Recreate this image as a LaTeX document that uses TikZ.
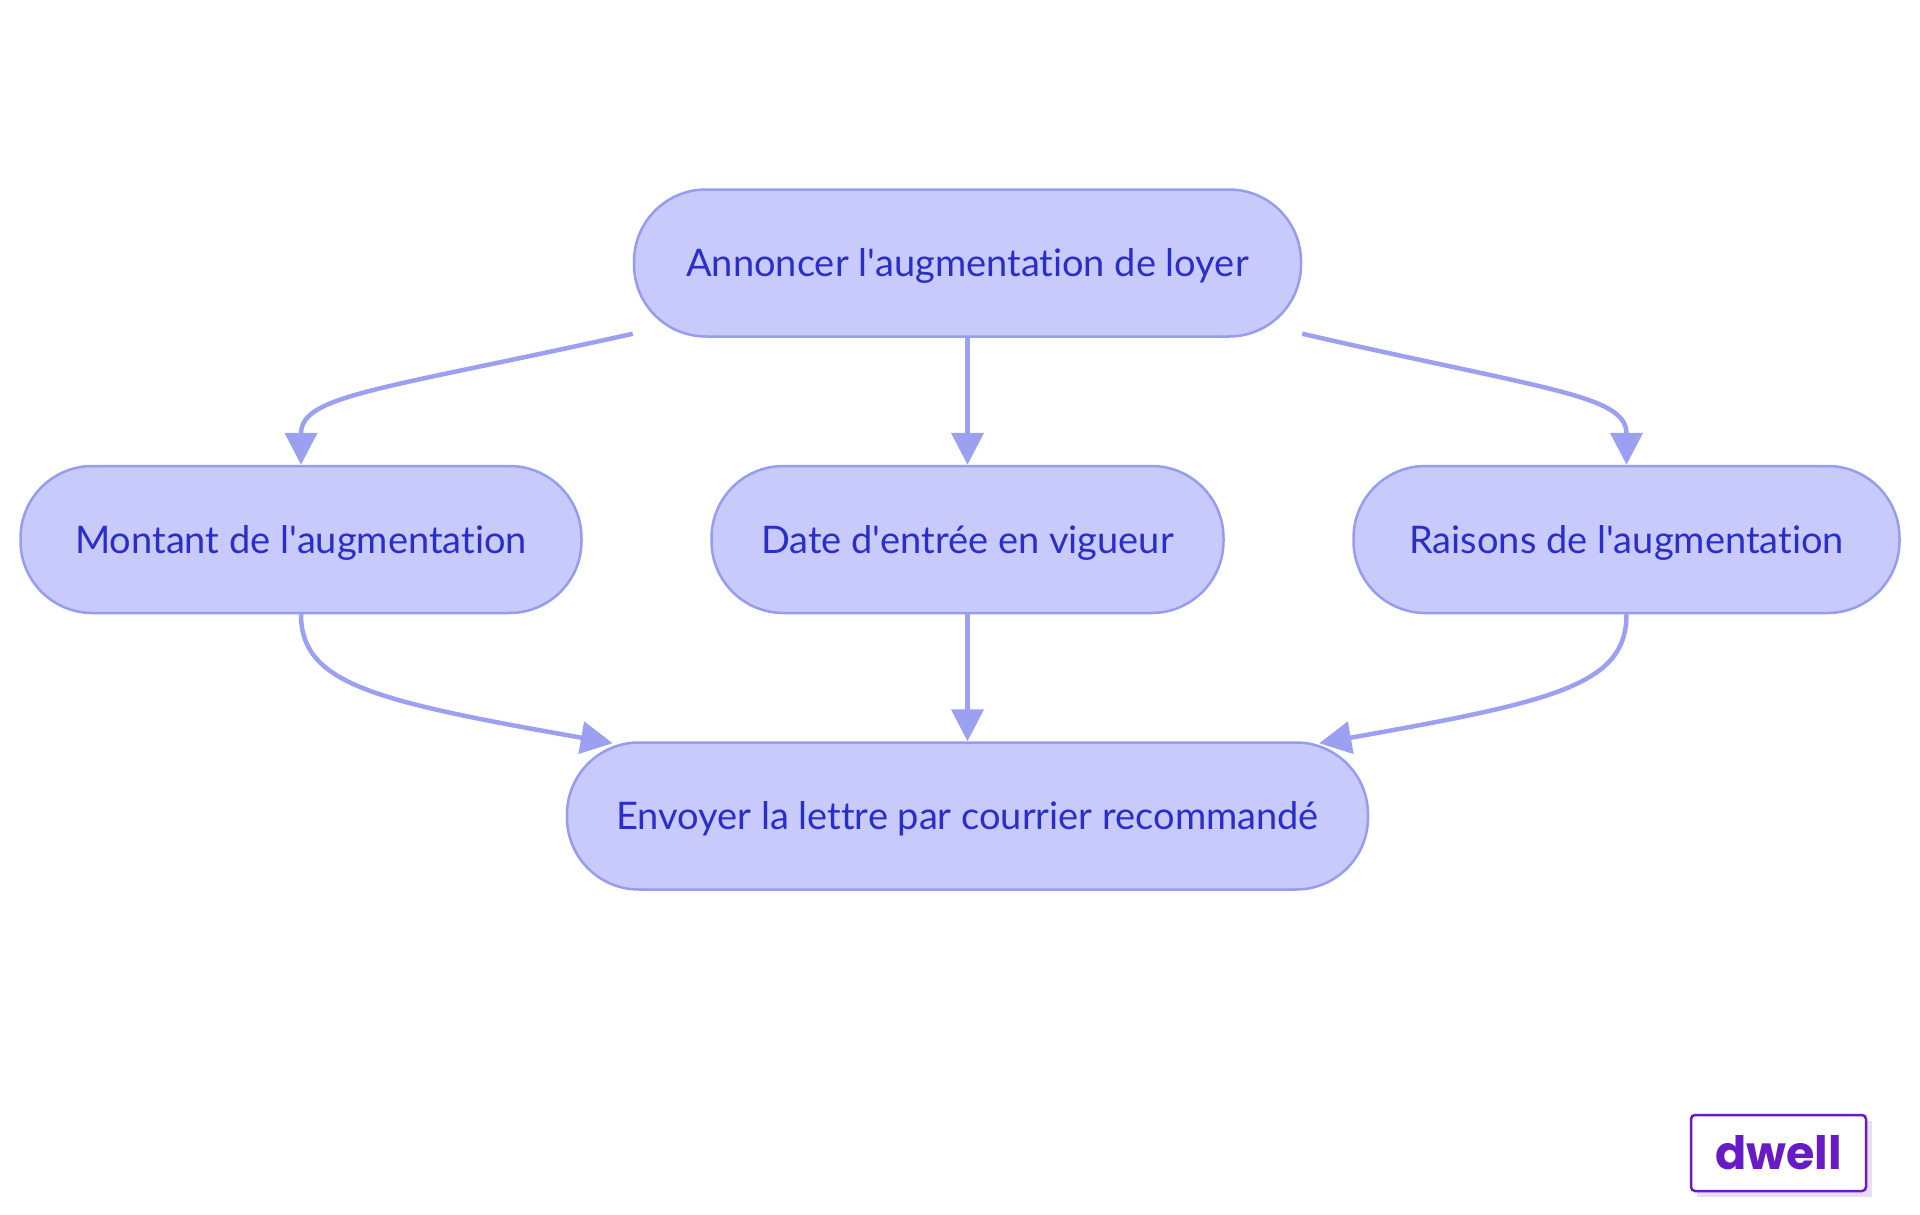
\documentclass[tikz,border=0pt]{standalone}
\usepackage{fontspec}
\setmainfont{Lato}[Ligatures={NoCommon,NoRare,NoDiscretionary}]
\newfontfamily\logofont{Poppins}
\usetikzlibrary{arrows.meta}
\definecolor{boxfill}{RGB}{201,202,252}
\definecolor{boxline}{RGB}{150,156,238}
\definecolor{boxtext}{RGB}{42,46,200}
\definecolor{linkline}{RGB}{156,160,240}
\definecolor{logoline}{RGB}{104,26,198}
\definecolor{logoshade}{RGB}{232,221,248}
\tikzset{
  stepbox/.style={draw=boxline, fill=boxfill, line width=2.5pt, rounded corners=72pt,
    minimum height=147pt, inner sep=0pt, text=boxtext, font=\fontsize{38pt}{44pt}\selectfont,
    text height=27.4pt, text depth=0pt},
  link/.style={draw=linkline, line width=4.5pt, -{Triangle[length=32pt,width=32pt]}}
}
\begin{document}
\begin{tikzpicture}[x=1pt, y=-1pt]
  \useasboundingbox[fill=white] (0,0) rectangle (1920,1215);

  \node[stepbox, minimum width=667pt] (annonce) at (967.5,263) {Annoncer l\textquotesingle augmentation de loyer};
  \node[stepbox, minimum width=561pt] (montant) at (301,539.5) {Montant de l\textquotesingle augmentation};
  \node[stepbox, minimum width=512pt] (date) at (967.5,539.5) {Date d\textquotesingle entrée en vigueur};
  \node[stepbox, minimum width=546pt] (raisons) at (1626.5,539.5) {Raisons de l\textquotesingle augmentation};
  \node[stepbox, minimum width=801pt] (envoi) at (967.5,816) {Envoyer la lettre par courrier recommandé};

  \draw[link] ([yshift=4pt]annonce.south west) .. controls (380,390) and (301,395) .. (montant.north);
  \draw[link] (annonce.south) -- (date.north);
  \draw[link] ([yshift=4pt]annonce.south east) .. controls (1547,390) and (1626.5,395) .. (raisons.north);
  \draw[link] (montant.south) .. controls (301,684) and (374,701) .. ([xshift=47pt,yshift=-2pt]envoi.north west);
  \draw[link] (date.south) -- (envoi.north);
  \draw[link] (raisons.south) .. controls (1626.5,684) and (1558,701) .. ([xshift=-50pt,yshift=-2pt]envoi.north east);

  \fill[logoshade] (1697,1121) rectangle (1872,1197);
  \node[draw=logoline, fill=white, line width=2.5pt, rounded corners=4pt, minimum width=175pt,
    minimum height=76pt, inner sep=0pt, text=logoline, font=\logofont\bfseries\fontsize{46pt}{50pt}\selectfont]
    (logo) at (1778.5,1153) {dwell};
\end{tikzpicture}
\end{document}
